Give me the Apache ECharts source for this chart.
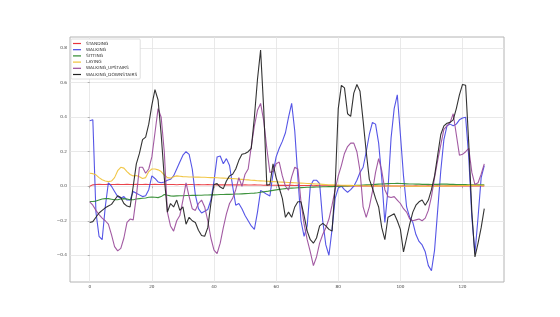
<!DOCTYPE html>
<html>
<head>
<meta charset="utf-8">
<script src="https://cdn.jsdelivr.net/npm/echarts@6/dist/echarts.min.js"></script>
<style>
html,body{margin:0;padding:0;background:#fff;}
#chart{width:560px;height:317px;}
</style>
</head>
<body>
<div id="chart"></div>
<script>
const seriesNames = ['STANDING','WALKING','SITTING','LAYING','WALKING_UPSTAIRS','WALKING_DOWNSTAIRS'];
const seriesColors = ['#e8343c','#4646e4','#2e8a2e','#f0c238','#9a4c9a','#222222'];
const xTicks = [0,20,40,60,80,100,120];
const yTicks = [-0.4,-0.2,0.0,0.2,0.4,0.6,0.8];

const standing = [
0.0,0.008,0.01,0.011,0.01,0.01,0.011,0.01,0.01,0.011,
0.01,0.01,0.011,0.01,0.01,0.011,0.01,0.01,0.011,0.01,
0.01,0.011,0.01,0.01,0.011,0.01,0.01,0.01,0.009,0.01,
0.01,0.009,0.01,0.01,0.009,0.01,0.009,0.009,0.01,0.009,
0.009,0.008,0.009,0.008,0.008,0.009,0.008,0.008,0.008,0.007,
0.008,0.007,0.007,0.008,0.007,0.007,0.006,0.007,0.006,0.006,
0.006,0.005,0.006,0.005,0.005,0.005,0.004,0.005,0.004,0.004,
0.004,0.004,0.003,0.004,0.003,0.003,0.003,0.003,0.002,0.003,
0.002,0.002,0.003,0.002,0.002,0.002,0.001,0.002,0.001,0.002,
0.001,0.001,0.002,0.001,0.001,0.001,0.002,0.001,0.001,0.001,
0.001,0.002,0.001,0.001,0.001,0.002,0.001,0.001,0.001,0.002,
0.001,0.001,0.002,0.001,0.001,0.002,0.001,0.001,0.002,0.001,
0.001,0.002,0.001,0.001,0.002,0.001,0.001,0.001];

const walking = [
0.38,0.385,-0.15,-0.29,-0.31,-0.12,0.02,0.0,-0.03,-0.06,
-0.07,-0.06,-0.08,-0.08,-0.03,-0.04,-0.05,-0.06,-0.055,-0.02,
0.06,0.045,0.025,0.02,0.025,0.035,0.04,0.06,0.1,0.14,
0.18,0.2,0.185,0.1,-0.05,-0.13,-0.155,-0.145,-0.135,-0.08,
0.03,0.17,0.175,0.13,0.16,0.12,0.0,-0.11,-0.1,-0.13,
-0.17,-0.2,-0.23,-0.25,-0.15,-0.025,-0.035,-0.047,-0.056,0.074,
0.17,0.22,0.26,0.31,0.40,0.48,0.32,0.05,-0.2,-0.29,
-0.23,0.0,0.035,0.035,0.015,-0.2,-0.34,-0.40,-0.25,-0.07,
-0.01,0.0,-0.02,-0.035,-0.02,0.0,0.035,0.08,0.11,0.2,
0.3,0.37,0.36,0.25,0.05,-0.21,-0.02,0.28,0.45,0.53,
0.3,0.06,-0.12,-0.18,-0.21,-0.28,-0.32,-0.34,-0.38,-0.46,
-0.49,-0.37,-0.14,0.09,0.27,0.35,0.36,0.35,0.36,0.385,
0.395,0.40,0.17,-0.18,-0.39,-0.18,0.05,0.12];

const sitting = [
-0.088,-0.088,-0.086,-0.08,-0.074,-0.072,-0.072,-0.075,-0.078,-0.078,
-0.074,-0.072,-0.074,-0.078,-0.078,-0.074,-0.072,-0.07,-0.068,-0.064,
-0.063,-0.064,-0.066,-0.06,-0.048,-0.052,-0.056,-0.057,-0.056,-0.055,
-0.055,-0.054,-0.054,-0.053,-0.053,-0.052,-0.052,-0.051,-0.051,-0.05,
-0.05,-0.049,-0.048,-0.048,-0.047,-0.047,-0.046,-0.045,-0.045,-0.044,
-0.043,-0.042,-0.041,-0.04,-0.038,-0.035,-0.032,-0.03,-0.027,-0.024,
-0.021,-0.018,-0.016,-0.014,-0.012,-0.011,-0.01,-0.009,-0.008,-0.007,
-0.006,-0.006,-0.005,-0.004,-0.004,-0.003,-0.003,-0.002,-0.002,-0.001,
0.0,0.0,0.001,0.002,0.003,0.004,0.005,0.006,0.007,0.008,
0.009,0.01,0.011,0.012,0.013,0.014,0.015,0.016,0.016,0.017,
0.016,0.015,0.014,0.013,0.013,0.012,0.012,0.011,0.011,0.011,
0.01,0.011,0.011,0.012,0.012,0.012,0.011,0.011,0.01,0.01,
0.01,0.01,0.009,0.009,0.009,0.008,0.008,0.008];

const laying = [
0.075,0.073,0.066,0.05,0.038,0.03,0.027,0.03,0.05,0.09,
0.11,0.105,0.085,0.068,0.06,0.062,0.055,0.045,0.05,0.085,
0.1,0.1,0.095,0.085,0.065,0.05,0.047,0.055,0.06,0.058,
0.056,0.055,0.054,0.054,0.053,0.053,0.052,0.052,0.051,0.05,
0.05,0.049,0.048,0.047,0.046,0.045,0.044,0.043,0.041,0.04,
0.038,0.037,0.035,0.034,0.032,0.031,0.03,0.029,0.028,0.027,
0.026,0.025,0.024,0.023,0.022,0.021,0.02,0.019,0.018,0.017,
0.016,0.015,0.014,0.013,0.012,0.011,0.01,0.009,0.008,0.008,
0.007,0.006,0.006,0.005,0.005,0.004,0.004,0.003,0.003,0.003,
0.002,0.002,0.002,0.002,0.001,0.001,0.001,0.001,0.001,0.001,
0.0,0.0,0.0,0.001,0.0,0.0,0.001,0.0,0.0,0.0,
0.001,0.0,0.0,0.001,0.001,0.002,0.002,0.003,0.003,0.004,
0.004,0.004,0.005,0.005,0.005,0.006,0.006,0.006];

const upstairs = [
-0.09,-0.11,-0.14,-0.165,-0.185,-0.2,-0.22,-0.28,-0.35,-0.375,
-0.36,-0.3,-0.21,-0.19,-0.195,-0.06,0.11,0.11,0.075,0.1,
0.17,0.31,0.45,0.4,0.2,-0.15,-0.23,-0.26,-0.2,-0.17,
-0.08,0.02,-0.06,-0.13,-0.14,-0.1,-0.08,-0.12,-0.2,-0.3,
-0.37,-0.39,-0.33,-0.24,-0.16,-0.1,-0.07,-0.02,0.05,0.0,
0.07,0.1,0.23,0.35,0.44,0.48,0.38,0.22,0.08,0.085,
0.13,0.14,0.06,0.0,-0.023,0.054,0.11,0.1,-0.09,-0.22,
-0.31,-0.38,-0.46,-0.41,-0.33,-0.28,-0.24,-0.19,-0.11,-0.02,
0.06,0.12,0.19,0.23,0.25,0.25,0.2,0.09,-0.12,-0.18,
-0.12,-0.03,0.08,0.16,0.09,-0.02,-0.06,-0.065,-0.06,-0.08,
-0.1,-0.13,-0.15,-0.19,-0.2,-0.195,-0.19,-0.2,-0.185,-0.14,
-0.06,0.05,0.15,0.24,0.33,0.35,0.37,0.42,0.3,0.18,
0.185,0.2,0.22,0.08,0.01,0.02,0.07,0.13];

const downstairs = [
-0.21,-0.205,-0.18,-0.155,-0.14,-0.125,-0.115,-0.105,-0.08,-0.055,
-0.065,-0.1,-0.115,-0.12,0.0,0.13,0.19,0.27,0.285,0.36,
0.47,0.56,0.5,0.3,0.05,-0.15,-0.1,-0.12,-0.08,-0.14,
-0.12,-0.22,-0.18,-0.2,-0.21,-0.255,-0.285,-0.29,-0.24,-0.1,
0.01,0.015,-0.005,-0.014,0.03,0.06,0.07,0.1,0.15,0.185,
0.19,0.2,0.22,0.4,0.62,0.79,0.45,0.006,0.01,0.13,
0.05,-0.01,-0.07,-0.18,-0.15,-0.18,-0.12,-0.09,-0.09,-0.17,
-0.26,-0.31,-0.33,-0.3,-0.23,-0.215,-0.23,-0.25,-0.26,0.0,
0.45,0.585,0.57,0.42,0.405,0.54,0.59,0.55,0.38,0.2,
0.04,-0.01,-0.07,-0.12,-0.24,-0.31,-0.18,-0.17,-0.16,-0.2,
-0.25,-0.38,-0.3,-0.22,-0.15,-0.11,-0.09,-0.08,-0.11,-0.08,
-0.02,0.06,0.18,0.3,0.35,0.365,0.37,0.385,0.45,0.53,
0.59,0.585,0.25,-0.15,-0.41,-0.33,-0.24,-0.13];

const allSeries = [standing, walking, sitting, laying, upstairs, downstairs];

const chart = echarts.init(document.getElementById('chart'), null, {renderer: 'canvas'});
const fmt = v => (v < 0 ? '\u2212' : '') + Math.abs(v).toFixed(1);
const option = {
  backgroundColor: '#ffffff',
  animation: false,
  textStyle: {fontFamily: 'DejaVu Sans'},
  grid: {left: 70, right: 56, top: 37, bottom: 35, show: true, borderColor: '#b4b4b4', borderWidth: 1, backgroundColor: 'transparent'},
  legend: {
    data: seriesNames,
    orient: 'vertical',
    left: 71, top: 39,
    icon: 'rect',
    itemWidth: 8, itemHeight: 1.2,
    itemGap: 1.2,
    padding: [2, 3, 2, 2],
    borderColor: '#d8d8d8', borderWidth: 0.8, borderRadius: 1,
    backgroundColor: '#ffffff',
    textStyle: {fontSize: 4.3, lineHeight: 5, color: '#333', fontFamily: 'DejaVu Sans'}
  },
  xAxis: {
    type: 'value', min: -6.35, max: 133.35,
    axisLine: {show: false},
    axisTick: {show: true, length: 2, lineStyle: {color: '#888', width: 0.6}, customValues: xTicks},
    axisLabel: {customValues: xTicks, fontSize: 4.2, color: '#444', margin: 3, fontFamily: 'DejaVu Sans'},
    splitLine: {show: true, lineStyle: {color: '#e3e3e3', width: 0.8}}
  },
  yAxis: {
    type: 'value', min: -0.555, max: 0.865,
    axisLine: {show: false},
    axisTick: {show: true, length: 2, lineStyle: {color: '#888', width: 0.6}, customValues: yTicks},
    axisLabel: {customValues: yTicks, fontSize: 4.2, color: '#444', margin: 3, formatter: fmt, fontFamily: 'DejaVu Sans'},
    splitLine: {show: true, lineStyle: {color: '#e3e3e3', width: 0.8}}
  },
  series: seriesNames.map((name, k) => ({
    name: name,
    type: 'line',
    showSymbol: false,
    symbol: 'none',
    color: seriesColors[k],
    lineStyle: {width: 1.1, color: seriesColors[k], opacity: 0.92},
    data: allSeries[k].map((v, i) => [i, v])
  }))
};
chart.setOption(option);
</script>
</body>
</html>
